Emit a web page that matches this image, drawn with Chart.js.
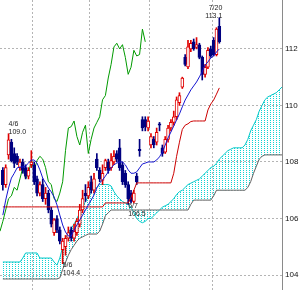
<!DOCTYPE html>
<html><head><meta charset="utf-8">
<script src="https://cdn.jsdelivr.net/npm/chart.js@4.4.1/dist/chart.umd.min.js"></script>
<style>html,body{margin:0;padding:0;background:#fff;overflow:hidden}</style>
</head><body>
<canvas id="c" width="300" height="290" style="display:block;width:300px;height:290px"></canvas>
<script>
// ---- candle data (daily) ----
const opens = [107.7,107.2,108.25,108.7,108.3,108.2,107.8,108.0,107.8,107.5,
 107.9,107.9,107.4,106.9,107.2,106.7,106.9,106.3,105.5,106.0,
 105.6,104.9,105.0,105.3,105.6,105.3,105.5,105.8,106.3,106.9,
 106.8,107.3,107.0,108.1,107.7,107.35,107.8,108.0,107.8,108.0,
 108.3,108.5,107.9,107.6,107.2,106.9,106.6,107.5,108.45,109.5,
 109.5,109.2,108.6,108.8,108.7,109.35,108.5,108.35,108.8,109.2,
 109.4,109.6,110.1,110.65,111.7,111.36,112.0,112.25,112.05,112.14,
 111.7,111.1,111.35,112.0,112.3,111.8,112.8];
const highs = [107.8,107.9,109.0,108.8,108.5,108.3,108.1,108.1,107.9,107.8,
 108.4,108.0,107.5,107.3,107.4,107.1,107.0,106.4,106.0,106.1,
 105.7,105.3,105.4,105.7,105.7,105.8,106.0,106.5,107.0,107.2,
 107.3,107.5,107.6,108.3,107.8,107.9,108.1,108.1,108.3,108.4,
 108.4,108.8,108.0,107.7,107.3,107.0,107.0,107.6,108.8,109.6,
 109.6,109.6,109.0,108.9,109.2,109.4,108.6,108.9,109.3,109.5,
 109.8,110.3,110.45,111.0,111.8,112.3,112.3,112.35,112.4,112.2,
 111.75,111.45,112.05,112.1,112.4,112.75,113.1];
const lows = [107.0,107.1,108.1,108.0,107.8,107.9,107.7,107.6,107.4,107.4,
 107.8,107.2,106.8,106.8,106.6,106.5,106.2,105.7,105.4,105.5,
 105.1,104.4,104.7,105.2,105.2,105.2,105.4,105.7,106.2,106.6,
 106.7,106.9,106.9,107.7,107.3,107.2,107.7,107.6,107.7,107.9,
 108.0,107.7,107.2,107.1,106.5,106.55,106.55,107.2,108.2,109.1,
 109.1,109.1,108.5,108.5,108.6,109.1,108.2,108.3,108.7,109.1,
 109.3,109.5,110.0,110.6,111.4,111.3,111.9,111.95,112.0,111.65,
 110.9,111.0,111.3,111.7,111.75,111.75,112.2];
const closes = [107.2,107.8,108.78,108.05,107.95,108.0,108.0,107.7,107.5,107.7,
 108.0,107.3,106.9,107.2,106.7,106.9,106.3,105.8,105.95,105.6,
 105.2,105.2,105.3,105.5,105.3,105.55,105.9,106.3,106.7,106.8,
 107.1,107.0,107.4,107.8,107.4,107.6,108.05,107.7,108.05,108.2,
 108.1,107.8,107.3,107.2,106.7,106.6,106.9,107.3,108.4,109.2,
 109.25,109.45,108.9,108.6,109.05,109.3,108.3,108.8,109.2,109.4,
 109.6,110.2,110.35,110.97,111.45,112.07,112.2,112.0,112.15,111.7,
 111.1,111.35,111.95,111.75,111.8,112.7,112.25];

// ---- ichimoku lines ----
const tenkan = [106.12,106.65,107.08,107.43,107.6,107.79,107.82,107.82,107.86,107.96,
 108.07,108.07,107.96,107.72,107.43,107.26,107.08,106.94,106.76,106.48,
 106.12,105.77,105.52,105.38,105.38,105.59,105.77,105.95,106.12,106.3,
 106.48,106.65,106.83,107.08,107.26,107.36,107.5,107.65,107.79,107.9,
 107.96,108.0,108.0,107.9,107.72,107.6,107.6,107.65,107.79,107.93,
 107.96,108.0,108.0,108.0,108.07,108.18,108.35,108.6,108.85,109.06,
 109.27,109.49,109.7,109.95,110.19,110.37,110.55,110.69,110.83,111.01,
 111.19,111.43,111.54,111.68,111.75,111.89,112.0];
const kijun = [106.41,106.41,106.41,106.41,106.41,106.41,106.41,106.41,106.41,106.41,
 106.41,106.41,106.41,106.41,106.41,106.41,106.41,106.41,106.41,106.41,
 106.41,106.41,106.41,106.41,106.41,106.41,106.41,106.41,106.41,106.41,
 106.41,106.41,106.41,106.41,106.41,106.41,106.55,106.55,106.55,106.55,
 106.55,106.55,106.55,106.55,106.55,106.75,107.0,107.26,107.26,107.26,
 107.26,107.26,107.26,107.26,107.26,107.26,107.26,107.26,107.26,107.26,
 107.6,108.2,108.7,109.15,109.3,109.35,109.43,109.45,109.45,109.45,
 109.45,109.45,109.84,110.05,110.19,110.4,110.62];
// lagging span, first value sits one slot left of the first candle
const chikou = [105.55,105.9,106.3,106.7,106.8,107.1,107.0,107.4,107.8,107.4,107.6,
 108.05,107.7,108.05,108.2,108.1,107.8,107.3,107.2,106.7,106.6,
 106.9,107.3,108.4,109.2,109.25,109.45,108.9,108.6,109.05,109.3,
 108.3,108.8,109.2,109.4,109.6,110.2,110.35,110.97,111.45,112.07,
 112.2,112.0,112.15,111.7,111.1,111.35,111.95,111.75,111.8,112.7,112.25];
const spanA = [104.46,104.46,104.46,104.46,104.46,104.46,104.46,104.6,104.78,104.78,
 104.78,104.78,104.78,104.6,104.6,104.6,104.6,104.6,104.46,104.35,
 104.6,105.0,105.3,105.5,105.65,105.8,106.0,106.2,106.4,106.6,
 106.8,106.95,107.05,107.1,107.2,107.2,107.2,107.2,107.15,106.95,
 106.8,106.7,106.6,106.55,106.5,106.4,106.2,106.0,105.9,105.85,
 105.9,106.0,106.0,106.1,106.2,106.3,106.4,106.45,106.5,106.6,
 106.7,106.85,106.95,107.0,107.1,107.2,107.25,107.3,107.35,107.4,
 107.5,107.6,107.7,107.8,107.85,107.95,108.1,108.2,108.3,108.4,
 108.45,108.5,108.5,108.5,108.5,108.6,108.8,109.1,109.3,109.5,
 109.8,110.0,110.2,110.3,110.35,110.4,110.45,110.55,110.65];
const spanB = [103.86,103.86,103.86,103.86,103.86,103.86,103.86,103.86,103.86,103.86,
 103.86,103.86,103.86,103.86,103.86,103.86,103.86,103.86,103.86,103.86,
 103.9,104.2,104.45,104.7,104.9,105.05,105.2,105.3,105.35,105.4,
 105.45,105.45,105.45,105.45,105.55,105.8,106.1,106.2,106.3,106.3,
 106.3,106.3,106.3,106.3,106.3,106.3,106.3,106.3,106.3,106.3,
 106.3,106.3,106.3,106.3,106.3,106.3,106.3,106.3,106.3,106.3,
 106.3,106.3,106.3,106.3,106.3,106.3,106.5,106.65,106.65,106.65,
 106.65,106.65,106.65,106.65,106.8,107.0,107.0,107.0,107.0,107.0,
 107.0,107.0,107.0,107.0,107.0,107.0,107.1,107.3,107.6,107.85,
 108.1,108.2,108.25,108.25,108.25,108.25,108.25,108.25,108.25];

const yTicks = [104,106,108,110,112];
const monthGrid = [0,20.5,40.5,62.5];
const markDates = ['4/6','5/6','6/7','7/20'];
const markIdx = [2,21,44,76];
const markSide = ['high','low','low','high'];

const UP = '#e00000', DOWN = '#000080';
const isUp = closes.map((c,i)=>c>=opens[i]);

const canvas = document.getElementById('c');
const ctx = canvas.getContext('2d');
const pc = document.createElement('canvas'); pc.width = 3; pc.height = 2;
const pctx = pc.getContext('2d'); pctx.fillStyle = '#10d4d4'; pctx.fillRect(0,0,1,1);
const dots = ctx.createPattern(pc,'repeat');

const pts = (arr, start) => arr.map((v,i)=>({x:i+start, y:v}));
const lineDs = (arr, start, color, order, extra) => Object.assign({
  type:'line', data:pts(arr,start), borderColor:color, borderWidth:1,
  pointRadius:0, tension:0, fill:false, order:order}, extra||{});

const marks = {
  id:'marks',
  afterDatasetsDraw(chart){
    const {ctx, scales:{x,y}, chartArea} = chart;
    ctx.save();
    ctx.font = '7px "Liberation Sans", Arial, sans-serif';
    ctx.fillStyle = '#222';
    markIdx.forEach((idx,k)=>{
      const high = markSide[k]==='high';
      const val = high ? highs[idx] : lows[idx];
      const px = x.getPixelForValue(idx), py = y.getPixelForValue(val);
      const right = px > chartArea.right*0.7;
      ctx.textAlign = right ? 'right' : 'left';
      const tx = right ? px+3 : px;
      if (high) {
        ctx.textBaseline = 'bottom';
        ctx.fillText(markDates[k], tx, py-6);
        ctx.fillText(val.toFixed(1), tx, py+2);
      } else {
        ctx.textBaseline = 'top';
        ctx.fillText(markDates[k], tx, py-2);
        ctx.fillText(val.toFixed(1), tx, py+6);
      }
    });
    ctx.restore();
  }
};

const noPad = s => { s.paddingTop = 0; s.paddingBottom = 0; s.paddingLeft = 0; s.paddingRight = 0; };

new Chart(ctx, {
  type:'bar',
  data:{ datasets:[
    lineDs(spanA, 0, '#00c8c8', 7, {fill:'+1', backgroundColor:dots}),
    lineDs(spanB, 0, '#606060', 6),
    lineDs(chikou, -1, '#009a00', 5),
    { type:'bar', grouped:false, order:4, barThickness:1,
      data: lows.map((l,i)=>({x:i, y:[l, highs[i]]})),
      backgroundColor: isUp.map(u=>u?UP:DOWN), borderWidth:0 },
    { type:'bar', grouped:false, order:3, barThickness:3,
      data: opens.map((o,i)=>({x:i, y:[o, closes[i]]})),
      backgroundColor: isUp.map(u=>u?'#ffffff':DOWN),
      borderColor: isUp.map(u=>u?UP:DOWN), borderWidth:1, borderSkipped:false },
    lineDs(kijun, 0, '#cc0000', 2),
    lineDs(tenkan, 0, '#1515d0', 1)
  ]},
  options:{
    responsive:false, animation:false, devicePixelRatio:1, events:[],
    layout:{padding:0},
    plugins:{legend:{display:false}, tooltip:{enabled:false}},
    scales:{
      x:{ type:'linear', min:-1, max:98, offset:false,
          ticks:{display:false},
          grid:{color:'#b4b4b4', lineWidth:1, drawTicks:false, tickLength:0},
          border:{display:false, dash:[2,2]},
          afterBuildTicks:s=>{ s.ticks = monthGrid.map(v=>({value:v})); },
          afterFit:s=>{ s.height = 0; noPad(s); } },
      y:{ position:'right', min:103.47, max:113.73,
          ticks:{color:'#111', padding:3, font:{size:8, family:'"Liberation Sans", Arial, sans-serif'}},
          grid:{color:'#b4b4b4', lineWidth:1, drawTicks:false, tickLength:0},
          border:{display:true, color:'#8a8a8a', width:1, dash:[2,2]},
          afterBuildTicks:s=>{ s.ticks = yTicks.map(v=>({value:v})); },
          afterFit:s=>{ s.width = 18; noPad(s); } }
    }
  },
  plugins:[marks]
});
</script>
</body></html>
